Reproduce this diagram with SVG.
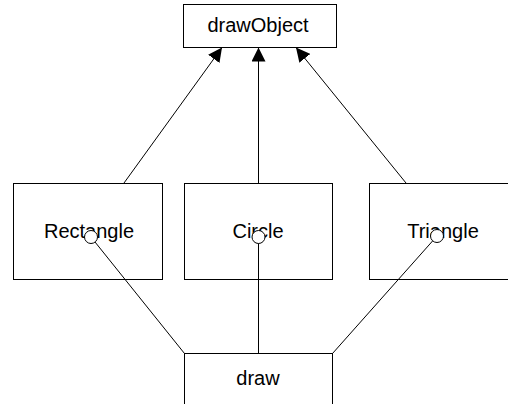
<svg xmlns="http://www.w3.org/2000/svg" width="508" height="404" viewBox="0 0 508 404">
<style>
.box{fill:#fff;stroke:#000;stroke-width:1}
.lbl{font-family:"Liberation Sans",Arial,sans-serif;font-size:20px;fill:#000;text-anchor:middle}
.edge{stroke:#000;stroke-width:1;fill:none}
.dot{fill:#fff;stroke:#000;stroke-width:1}
</style>
<defs>
<marker id="tri" viewBox="0 0 14 14" refX="14" refY="7" markerWidth="14" markerHeight="14" markerUnits="userSpaceOnUse" orient="auto">
<path d="M0,0 L14,7 L0,14 Z" fill="#000"/>
</marker>
</defs>
<g id="drawObject">
<rect class="box" x="183.5" y="4.5" width="153" height="43"/>
<text class="lbl" x="258" y="32">drawObject</text>
</g>
<g id="Rectangle">
<rect class="box" x="13.5" y="183.5" width="149" height="96"/>
<text class="lbl" x="89" y="238">Rectangle</text>
</g>
<g id="Circle">
<rect class="box" x="184.5" y="183.5" width="148" height="96"/>
<text class="lbl" x="258" y="238">Circle</text>
</g>
<g id="Triangle">
<rect class="box" x="369.5" y="183.5" width="148" height="96"/>
<text class="lbl" x="443" y="238">Triangle</text>
</g>
<g id="draw">
<rect class="box" x="184.5" y="353.5" width="148" height="60"/>
<text class="lbl" x="258" y="385">draw</text>
</g>
<g id="connectors">
<line class="edge" x1="124" y1="183" x2="222" y2="47.5" marker-end="url(#tri)"/>
<line class="edge" x1="258.5" y1="183" x2="258.5" y2="47.5" marker-end="url(#tri)"/>
<line class="edge" x1="406" y1="183" x2="296" y2="47.5" marker-end="url(#tri)"/>
<line class="edge" x1="184.5" y1="353.5" x2="91" y2="237"/>
<line class="edge" x1="258.5" y1="353.5" x2="258.5" y2="237"/>
<line class="edge" x1="332.5" y1="353.5" x2="437" y2="236"/>
<circle class="dot" cx="91" cy="237" r="6.5"/>
<circle class="dot" cx="258.5" cy="237" r="6.5"/>
<circle class="dot" cx="437" cy="236" r="6.5"/>
</g>
</svg>
